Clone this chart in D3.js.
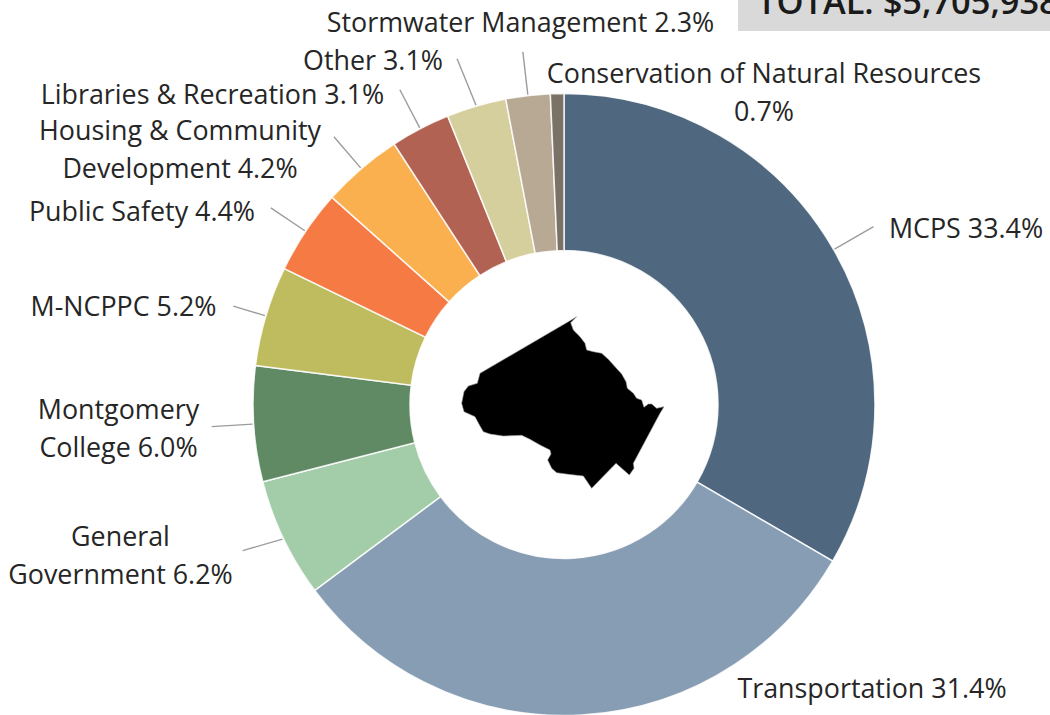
<!DOCTYPE html>
<html><head><meta charset="utf-8">
<script src="https://cdn.jsdelivr.net/npm/d3@7"></script>
<style>html,body{margin:0;padding:0;background:#fff;overflow:hidden}svg{display:block}text{font-family:"Open Sans",sans-serif}</style>
</head><body><svg id="c" width="1050" height="715"></svg>
<script>
const categories=["MCPS","Transportation","General Government","Montgomery College","M-NCPPC","Public Safety","Housing & Community Development","Libraries & Recreation","Other","Stormwater Management","Conservation of Natural Resources"];
const values=[33.4,31.4,6.2,6.0,5.2,4.4,4.2,3.1,3.1,2.3,0.7];
const colors=["#4f6880","#879db3","#a3cda8","#5f8a63","#bfbc60","#f67a44","#fab04e","#b26252","#d5ce9d","#b8a995","#7b7267"];
const labelLines=[["MCPS 33.4%"],["Transportation 31.4%"],["General","Government 6.2%"],["Montgomery","College 6.0%"],["M-NCPPC 5.2%"],["Public Safety 4.4%"],["Housing & Community","Development 4.2%"],["Libraries & Recreation 3.1%"],["Other 3.1%"],["Stormwater Management 2.3%"],["Conservation of Natural Resources","0.7%"]];
const labelPos=[[966,228],[872,688],[120.5,536],[118.5,409],[123.5,306],[142,211],[180,130],[212.5,94],[373,60],[520.5,22],[764,73]];
const leaderLen=[46,0,42,42,34,42,42,44,51,44,0];
const leaderTwist=[0,0,1.1,0,0,0,0,0,-0.8,0,0];
const countyOutline=[[385,65],[410,50],[392,68],[400,90],[420,110],[435,130],[440,150],[460,155],[485,160],[505,178],[525,200],[545,222],[558,245],[562,265],[580,280],[590,295],[605,300],[612,322],[625,312],[635,312],[650,325],[672,320],[660,340],[580,490],[582,505],[568,525],[528,490],[455,565],[430,528],[385,523],[350,518],[335,505],[323,480],[333,462],[330,450],[300,435],[270,418],[245,406],[190,408],[150,402],[130,395],[120,378],[105,350],[72,335],[65,310],[72,275],[85,258],[112,250],[120,220]];
const totalText="TOTAL: $5,705,938";

const svg=d3.select("#c");
const cx=564,cy=404.5,R=311,r=154;
const g=svg.append("g").attr("transform",`translate(${cx},${cy})`);
const pie=d3.pie().sort(null)(values);
const arc=d3.arc().innerRadius(r).outerRadius(R);
g.selectAll("path.s").data(pie).join("path").attr("class","s").attr("d",arc)
 .attr("fill",(d,i)=>colors[i]).attr("stroke","#fff").attr("stroke-width",1.5).attr("stroke-opacity",.85);
pie.forEach((d,i)=>{
  if(!leaderLen[i])return;
  const a=(d.startAngle+d.endAngle)/2,s=Math.sin(a),c=-Math.cos(a);
  const b=a+leaderTwist[i]*Math.PI/180;
  g.append("line").attr("x1",s*(R+1)).attr("y1",c*(R+1)).attr("x2",Math.sin(b)*(R+leaderLen[i])).attr("y2",-Math.cos(b)*(R+leaderLen[i]))
   .attr("stroke","#9c9c9c").attr("stroke-width",1.4);
});
const lh=37.5;
labelLines.forEach((ls,i)=>{
  ls.forEach((t,j)=>{
    svg.append("text").attr("x",labelPos[i][0]).attr("y",labelPos[i][1]+0.7+j*lh).attr("dy","0.35em")
     .attr("text-anchor","middle").attr("font-size",26.85).attr("fill","#262626").text(t);
  });
});
// county silhouette
const sx=d3.scaleLinear().domain([0,720]).range([440,680]);
const sy=d3.scaleLinear().domain([0,600]).range([300,500]);
svg.append("path").attr("d",d3.line().x(d=>sx(d[0])).y(d=>sy(d[1])).curve(d3.curveLinearClosed)(countyOutline))
 .attr("fill","#000").attr("stroke","#999").attr("stroke-width",.6);
// total box
svg.append("rect").attr("x",738).attr("y",0).attr("width",312).attr("height",31).attr("fill","#d9d9d9");
svg.append("text").attr("x",757).attr("y",14).attr("font-size",34.4).attr("font-weight",600).attr("fill","#1a1a1a").text(totalText);
</script></body></html>
